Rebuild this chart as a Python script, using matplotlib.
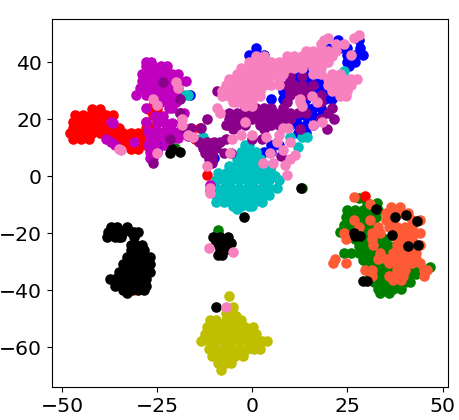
import matplotlib
matplotlib.use('Agg')
import matplotlib.pyplot as plt

# points, one list per cluster colour: (y, [x values on that row])
blue_rows = [(47.7, [22.6, 28]), (45, [1, 20, 23, 25, 28.3]), (42.5, [-1, 3, 25, 27, 29]), (40, [25, 27]), (38.5, [25.5, 14]),
             (36, [8, 10, 12, 14, 16]), (33, [10, 12, 14, 16, 18, 3]), (30, [8, 10, 12, 14, 16, 18, 20, 22]),
             (27, [5, 8, 14, 17, 19, 21]), (24, [14, 16, 18]), (21, [8, 10, 12, 14, 16, 18]), (18, [10, 12, 14, 16]),
             (15, [12, 14]), (11, [5, 7, -10, -24]), (8.5, [3, 5, -25]), (28.5, [-16.5]), (31, [-7]), (6.5, [-10])]
green_rows = [(-4.3, [13]), (-7.8, [28]), (-9.6, [30, 32.7]), (-12, [25, 27, 29, 31, 33]), (-14.5, [24.5, 26.5, 28.5, 30.5, 32.5]),
              (-17, [24, 26, 28, 30, 32]), (-19.5, [23, 25, 27, 29, 31, 33]), (-22, [27, 29, 31, 33, 35]),
              (-24.5, [28, 30, 32, 34, 36, 38, 40]), (-27, [24, 26, 28, 30, 32, 34, 36, 38, 40, 42]),
              (-29.5, [29, 31, 33, 35, 37, 39, 41, 43]), (-32, [30, 32, 34, 36, 38, 40, 42, 44, 46.7]),
              (-34.5, [31, 33, 35, 37, 39, 41, 43]), (-37, [32, 34, 36, 38, 40, 41.5]), (-39.5, [33, 35, 37, 39]),
              (-41, [33.6, 36]), (-20, [-9]), (10, [-20.3]), (30, [24.5]), (-19, [-9])]
red_rows = [(25, [-26]), (23.5, [-42, -40, -27.5, -25]), (21.5, [-46.5, -44.5, -42.5, -40.5, -38.5, -36.5, -26]),
            (19, [-47, -45, -43, -41, -39, -37, -28, -25]), (17, [-47, -45, -43, -41, -39, -37, -35, -28, -26, -13.8]),
            (15, [-48, -46, -44, -42, -40, -38, -36, -34, -32, -30, -28, -26, -18, -16]),
            (13, [-47, -45, -43, -35, -33, -31, -29, -27, -15, -13]), (11, [-34, -32, -30, -28]), (9.5, [-32, -30]),
            (0.3, [-12]), (-7, [29.5])]
cyan_rows = [(37, [24]), (28.4, [-16.8, -18]), (13.8, [14.3, 13, -13, -15.5, 10]), (11, [-2, -1]), (10.3, [12]), (8.5, [-3, -1, 1]),
             (6, [-4, -2, 0, 2]), (3.5, [-6, -4, -2, 0, 2, 4, 5]), (1, [-9, -7, -5, -3, -1, 1, 3, 5]),
             (0, [6]), (-1.5, [-9.5, -7.5, -5.5, -3.5, -1.5, 0.5, 2.5, 4.5, 7]),
             (-4, [-9.5, -7.5, -5.5, -3.5, -1.5, 0.5, 2.5, 4.5, 6.4]),
             (-6.5, [-9.5, -7.5, -5.5, -3.5, -1.5, 0.5, 2.5, 4.5]), (-9, [-9.5, -7.5, -5.5, -3.5, -1.5, 0.5, 2.5]),
             (-10.5, [-5, -3, -1, 0]), (-11.5, [-4])]
magenta_rows = [(40, [-28, -26.5]), (38.5, [-28, -26, -24, -22.5]), (36, [-29, -27, -25, -23, -21, -19.5]),
                (33.5, [-29, -27, -25, -23, -21, -19, -17.5]), (31, [-29.5, -27.5, -25.5, -23.5, -21.5, -19.5]),
                (28.5, [-30.5, -28, -26, -24, -22, -20]), (26, [-24, -22, -20]), (24, [-28, -22, -21]), (22, [-19, -18]),
                (21, [-25.5, -23.5]), (19, [-37, -28]), (18.5, [-25, -23, -21, -19, -36.5]), (16, [-27.5, -25, -23, -21, -19]),
                (14, [-17]), (13.5, [-27, -25, -23, -21, -19.5]), (13, [-38.5]), (12, [-37, -31]), (11, [-27.5, -25.5, -23, -36]),
                (8.5, [-27, -25]), (6.5, [-27, -26]), (-3, [-11]), (-5, [-11])]
yellow_rows = [(-42, [-6]), (-46, [-5]), (-48, [-7, -5]), (-49, [-4.2]), (-50.5, [-11, -9.5, -7, -5, -3]),
               (-53, [-12, -10, -8, -6, -4, -2, 0.3]),
               (-55.5, [-12.5, -10.5, -8.5, -6.5, -4.5, -2.5, -0.5, 1]),
               (-58, [-13.5, -11.5, -9.5, -7.5, -5.5, -3.5, -1.5, 0.5, 2.5, 3.8]),
               (-60.5, [-11.5, -9.5, -7.5, -5.5, -3.5, -1.5, 0.5, 2]), (-63, [-10.5, -8.5, -6.5, -4.5, -2.5]),
               (-65.5, [-9, -7, -5.5]), (-68, [-8.2])]
tomato_rows = [(-7.5, [26.7]), (-9.8, [30.9]), (-11, [36.5, 38.8]), (-13, [35, 37, 39, 41]), (-15.5, [26.6, 31, 35, 37, 42, 44]),
               (-18, [28, 33, 36, 38, 40, 42]), (-20, [24, 31.5, 33.5, 38, 40, 42, 44]), (-22, [24.5, 31.5, 38, 40, 42]),
               (-24, [31.8, 38, 40, 42, 44]), (-27, [33.5, 37, 39, 41, 43]), (-29, [21.7, 33, 35, 37, 39, 41, 43]),
               (-30.5, [21.3, 24.5, 36, 38, 40, 42, 44]), (-33, [29.6, 31.4, 38, 40, 45, 46]), (-35, [31.5, 36, 38, 39.5, 45]),
               (-36.5, [37, 39]), (-40, [-31])]
black_rows = [(-4, [12.7]), (-11.7, [32.5]), (-13.5, [40.3]), (-14.5, [37.5, -2.2]), (-15.8, [43.2]), (-20, [26.7]),
              (-20.5, [36.8]), (-21, [28.3, 27]), (-24, [43.5]), (-24.5, [41]), (-36.7, [29.2, 30]), (-17.8, [-35.5, -37, -33]),
              (-19.5, [-38, -36, -34, -32, -31, -30]), (-21.5, [-38.3, -36, -35, -34.5, -31]), (-24, [-32, -30.5, -29]),
              (-26, [-32, -30, -28.5]), (-28.5, [-33, -32, -30, -28, -27]), (-31, [-34, -33, -31, -29, -27]),
              (-33.5, [-35, -34, -32, -30, -28, -27]), (-36, [-37.5, -36, -34, -32, -30, -28]),
              (-38.5, [-36, -34, -32, -30, -28]), (-40, [-34, -32, -30, -28.5]), (-41, [-33]),
              (-21.3, [-10.2, -8.5, -6.5]), (-23.6, [-9.5, -7.5, -5.5]), (-25.5, [-8.5, -6.5]), (-27.7, [-9, -8]),
              (-46, [-9.5]), (8, [-21.6]), (8.5, [-19]), (9.5, [-21])]
purple_rows = [(35, [10, 13]), (33, [-23.4]), (32, [9, 11, 13, 16]), (30, [10, 12, 14, -9.4, -7]), (28.5, [10, 15, 18]), (27, [-19]),
               (26, [9, 18]), (24, [-2, 1, 3, 5, 8, 21]), (22, [-6, -4, -2, 0, 2, 4, 6, 8, 10, 12, 14, 20, -19]),
               (20, [-6, -4, -2, 0, 2, 4, 6, 8, 10, 18, 21.5, -12]), (18, [-7, -6, -4, -2, 2, 4, 5, 7]),
               (17, [-18, -16, -13.5]), (16.4, [-5, 3, 12.5, 19.6]), (13, [2.5, 0, -21.6, -7]),
               (12, [-14, -12, -10, -8.5]), (10, [-13, -11, -9.5]), (8, [-12.5, -10.5, -7.5, -5.5]), (6, [-11.5, -10.5]),
               (4.7, [-26, -10.5]), (7, [7.5])]
pink_rows = [(49.5, [27.9]), (48.3, [26.6, 20]), (47.7, [18.7]), (46.5, [24, 18, 22]), (44, [14, 16, 18, 20, 22]), (42.5, [26]),
             (42, [1, 3, 9, 11, 13, 15, 17, 19, 21]), (40, [-1, 1, 3, 5, 7, 9, 11, 13, 15, 17, 19, 20]),
             (38, [-3, -1, 1, 3, 5, 7, 9, 11, 13, 16, 18]), (36, [-4, -2, 0, 2, 4, 6, 8, 16, 18, 21, 23]),
             (34, [-6, -4, -2, 0, 2, 4, 7, 20, 22, 24, 26, 27.5]), (32, [-7, -5, -3, -1, 1, 3, 5, 7, 20, 22, 24, 26]),
             (30, [-8, -6, -4, -2, 0, 2, 21, 23, 25]), (28, [-8, -6, -4, -2, 0, 2, 15.6, 23, 24.5]), (27, [12.5, -26]),
             (26, [-5, -4, -2, 0, 16.9, 12.5]), (25, [-25]), (24.5, [-2, 0, 13]), (24, [-9.4]), (22, [-8.5]),
             (20, [-18.5]), (19, [18.2, -2]), (18, [16, -18.5]), (17, [8.1, 9.5]), (14.4, [-2.9, 0, 7, -16.8]), (13.8, [3.7, -15.5]),
             (13, [-5.4]), (12, [6.4, 9.9]), (9.5, [-35]), (9, [8.1, -34.5]), (8, [4.6, -5.9, -25]), (7.4, [11.2]), (6, [10]),
             (4.6, [2.9, 5.5]), (3.9, [8.6]), (3.5, [-12]), (0.3, [9]), (33, [-20]), (31, [-19.5]), (-4, [-11]), (-6, [-11]),
             (-25.4, [-11.4]), (-26.6, [-5]), (-46, [-7])]

row_groups = [blue_rows, green_rows, red_rows, cyan_rows, magenta_rows, yellow_rows, tomato_rows, black_rows, purple_rows, pink_rows]
group_colors = ['b', 'g', 'r', 'c', 'm', 'y', '#ff5a36', 'k', '#8b008b', '#f781bf']

fig = plt.figure(figsize=(4.59, 4.2), dpi=100)
ax = fig.add_axes([51.7 / 459, 1 - 387 / 420, (448 - 51.7) / 459, (387 - 18.5) / 420])

for rows, color in zip(row_groups, group_colors):
    xs = [x for y, row in rows for x in row]
    ys = [y for y, row in rows for x in row]
    ax.scatter(xs, ys, color=color, s=58, linewidths=0)

ax.set_xlim(-52.7, 51.4)
ax.set_ylim(-74, 55.3)
ax.set_xticks([-50, -25, 0, 25, 50])
ax.set_yticks([-60, -40, -20, 0, 20, 40])
ax.tick_params(labelsize=14.7)

fig.savefig('out.png', dpi=100)
